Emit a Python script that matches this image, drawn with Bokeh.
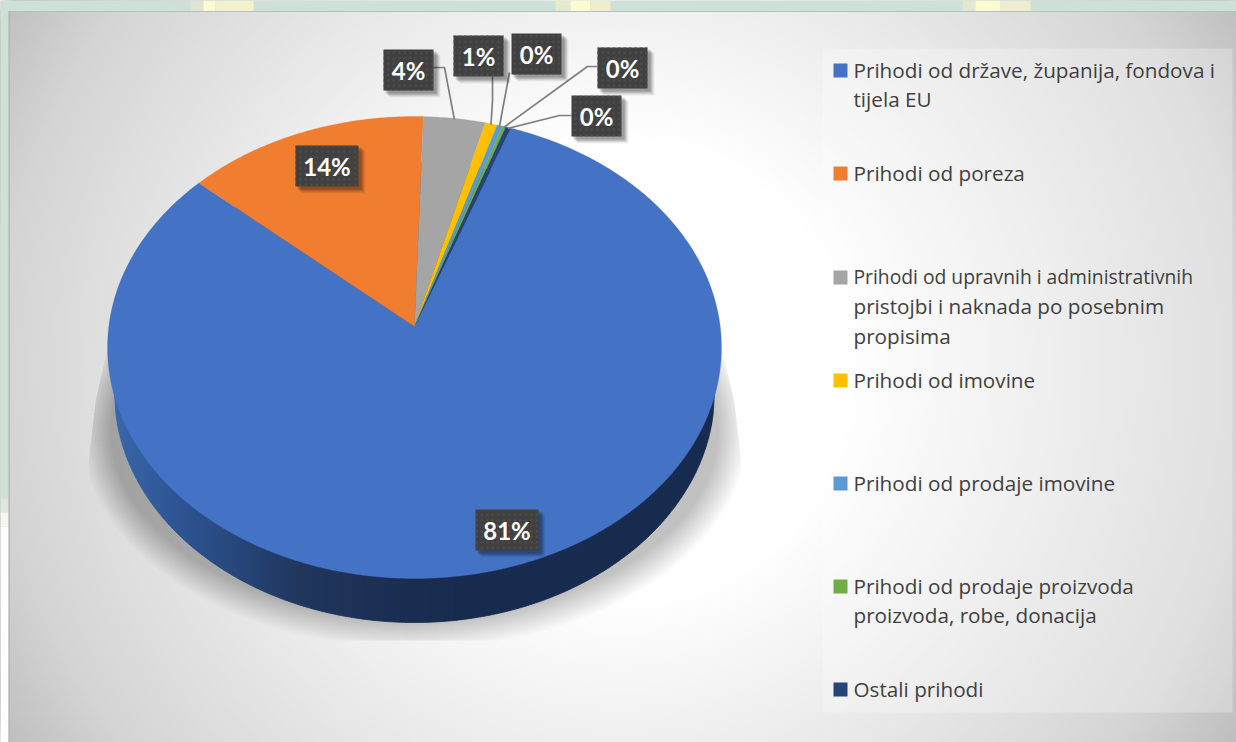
import numpy as np
from bokeh.plotting import figure
from bokeh.embed import file_html
from bokeh.resources import INLINE
from bokeh.core.properties import value

# ---- data ----
categories = [
    ["Prihodi od države, županija, fondova i", "tijela EU"],
    ["Prihodi od poreza"],
    ["Prihodi od upravnih i administrativnih", "pristojbi i naknada po posebnim", "propisima"],
    ["Prihodi od imovine"],
    ["Prihodi od prodaje imovine"],
    ["Prihodi od prodaje proizvoda", "proizvoda, robe, donacija"],
    ["Ostali prihodi"],
]
shares = [81.0, 13.95, 3.55, 0.7, 0.3, 0.2, 0.3]
colors = ["#4472c4", "#f07d30", "#a5a5a5", "#ffc000", "#5b9bd5", "#70ad47", "#264478"]

# ---- layout ----
W, H = 1236, 742
START = 20.0
CX, AY, A, B, K = 414.0, 326.0, 305.7, 229.1, 0.0909
BOT_CY, BOT_RX, BOT_RY = 392.0, 300.0, 230.0

p = figure(width=W, height=H, x_range=(0, W), y_range=(H, 0),
           toolbar_location=None, output_backend="svg", min_border=0,
           background_fill_color="#bebebe", border_fill_color=None,
           outline_line_color=None)
p.axis.visible = False
p.grid.visible = False


def proj(theta_deg, r=1.0):
    th = np.radians(theta_deg)
    u, v = r * np.sin(th), r * np.cos(th)
    w = 1 + K * v
    return CX + A * u / w, AY - B * v / w


# background radial gradient, one flat disc per grey level
R0 = 722.0
levels = np.arange(191, 256)
drops = (255 - levels) / 65.0
radii = np.interp(drops, [0, 0.23, 0.65, 1.0], [0.32, 0.51, 0.86, 1.0]) * R0
p.circle(x=[620.0] * len(levels), y=[370.0] * len(levels), radius=radii,
         fill_color=[f"#{v:02x}{v:02x}{v:02x}" for v in levels], line_color=None)

# the slide underneath: top and left strips, frame edges
p.quad(left=[0], right=[W], top=[0], bottom=[11], fill_color="#cde1d8", line_color=None)
p.quad(left=[190, 203, 215, 555, 570, 590, 962, 975, 1000],
       right=[203, 215, 253, 570, 590, 610, 975, 1000, 1030],
       top=[0, 0, 0, 0, 0, 0, 0, 0, 0], bottom=[11, 11, 11, 11, 11, 11, 11, 11, 11],
       fill_color=["#dfe5cf", "#fdfbd0", "#f3f2cf", "#e4ead0", "#fdfbd0", "#eeeecf", "#e2e8d0", "#fdfbd0", "#eceecf"],
       line_color=None)
p.quad(left=[0], right=[W], top=[10.5], bottom=[11.5], fill_color="#b5c2bc", line_color=None)
p.quad(left=[0, 0, 0], right=[8, 8, 8], top=[0, 498, 512], bottom=[498, 512, 526],
       fill_color=["#cde1d8", "#dfe6e2", "#f5f5f3"], line_color=None)
p.quad(left=[0], right=[8], top=[526], bottom=[H], fill_color="#ffffff", line_color=None)
p.quad(left=[8], right=[9.5], top=[11], bottom=[H], fill_color="#b8b8b8", line_color=None)

# soft shadow below the pie
t = np.linspace(0, 2 * np.pi, 240)
for d in np.arange(-12, 19, 1.0):
    sx = CX + (316 + d) * np.cos(t)
    sy = 430 + (200 + d) * np.sin(t)
    sy = np.clip(sy, 347, 640)
    xl = np.interp(sy, [347, 400, 460, 800], [107, 95, 88, 88])
    xr = np.interp(sy, [347, 400, 460, 800], [721, 734, 741, 741])
    sx = np.clip(sx, xl, xr)
    p.patch(sx, sy, fill_color="#000000", fill_alpha=0.0072, line_color=None)

# pie wall: vertical strips with a horizontal shading
edges = np.arange(CX - BOT_RX, CX + BOT_RX, 3.0)
wx, wy, wc = [], [], []
stops_x = [111, 140, 200, 300, 400, 480, 720]
stops_r = [0x3c, 0x34, 0x2b, 0x20, 0x1a, 0x17, 0x17]
stops_g = [0x68, 0x5f, 0x4f, 0x36, 0x2e, 0x2b, 0x2b]
stops_b = [0xae, 0xa0, 0x8b, 0x5c, 0x52, 0x4f, 0x4f]
for e in edges:
    xs = np.linspace(e, e + 3.0, 3)
    half = BOT_RY * np.sqrt(np.clip(1 - ((xs - CX) / BOT_RX) ** 2, 0, 1))
    wx.append(np.r_[xs, xs[::-1]])
    wy.append(np.r_[BOT_CY - half, (BOT_CY + half)[::-1]])
    m = e + 1.5
    wc.append("#%02x%02x%02x" % (int(np.interp(m, stops_x, stops_r)),
                                 int(np.interp(m, stops_x, stops_g)),
                                 int(np.interp(m, stops_x, stops_b))))
p.patches(wx, wy, fill_color=wc, line_color=wc, line_width=0.8)

# pie top, slices drawn from the shares
shares_arr = np.array(shares, dtype=float)
angles = START + np.r_[0, np.cumsum(shares_arr)] / shares_arr.sum() * 360
mids = (angles[:-1] + angles[1:]) / 2
xs_list, ys_list = [], []
for a0, a1 in zip(angles[:-1], angles[1:]):
    th = np.linspace(a0, a1, max(3, int(abs(a1 - a0) * 2)))
    x, y = proj(th)
    xs_list.append(np.r_[CX, x])
    ys_list.append(np.r_[AY, y])
p.patches(xs_list, ys_list, fill_color=colors, line_color=colors, line_width=0.3)

# leader lines from slices to their labels
leaders = {2: [(433, 67), (444, 67)], 3: [(492, 76), (492, 100)], 4: [(509, 72)],
           5: [(597, 66), (587, 66)], 6: [(571, 115), (559, 115)]}
for i, pts in leaders.items():
    ex, ey = proj(mids[i], 0.995)
    lx = [q[0] for q in pts] + [float(ex)]
    ly = [q[1] for q in pts] + [float(ey)]
    p.line(lx, ly, line_color="#7f7f7f", line_width=1.7)

# data-label boxes
boxes = [(475, 538, 509, 550), (295, 358, 145, 186), (383, 433, 49, 90),
         (453, 503, 35, 76), (511, 561, 33, 74), (597, 647, 47, 88), (571, 621, 95, 136)]
labels = [f"{round(s)}%" for s in shares]
for off, al in [(7, 0.05), (6, 0.07), (5, 0.09), (4, 0.11), (3, 0.12)]:
    p.quad(left=[b[0] + off - 1 for b in boxes], right=[b[1] + off for b in boxes],
           top=[b[2] + off - 1 for b in boxes], bottom=[b[3] + off for b in boxes],
           fill_color="#000000", fill_alpha=al, line_color=None)
p.quad(left=[b[0] for b in boxes], right=[b[1] for b in boxes],
       top=[b[2] for b in boxes], bottom=[b[3] for b in boxes],
       fill_color="#404040", line_color=None,
       hatch_pattern="dot", hatch_color="#4c4c4c", hatch_scale=5.5, hatch_weight=1.4)
p.text(x=[(b[0] + b[1]) / 2 for b in boxes], y=[(b[2] + b[3]) / 2 for b in boxes], text=labels,
       text_color="#ffffff", text_font=value("Lato"), text_font_style="bold",
       text_font_size="24px", text_align="center", text_baseline="middle")

# legend panel
p.quad(left=[822], right=[1232], top=[48], bottom=[712], fill_color="#ffffff",
       fill_alpha=0.27, line_color=None)
first_y = [70, 173, 277, 380, 483, 586, 689]
LINE = 29.7
p.scatter(x=[840] * 7, y=first_y, size=14, marker="square", fill_color=colors, line_color=None)
tx, ty, tt, ts = [], [], [], []
for y0, lines in zip(first_y, categories):
    for j, s in enumerate(lines):
        tx.append(853)
        ty.append(y0 - 1 + j * LINE)
        tt.append(s)
        ts.append("19.3px" if s.endswith("administrativnih") else "20.7px")
p.text(x=tx, y=ty, text=tt, text_color="#404040", text_font=value("Open Sans"),
       text_font_size=ts, text_align="left", text_baseline="middle")

open("out.html", "w").write(file_html(p, INLINE))
